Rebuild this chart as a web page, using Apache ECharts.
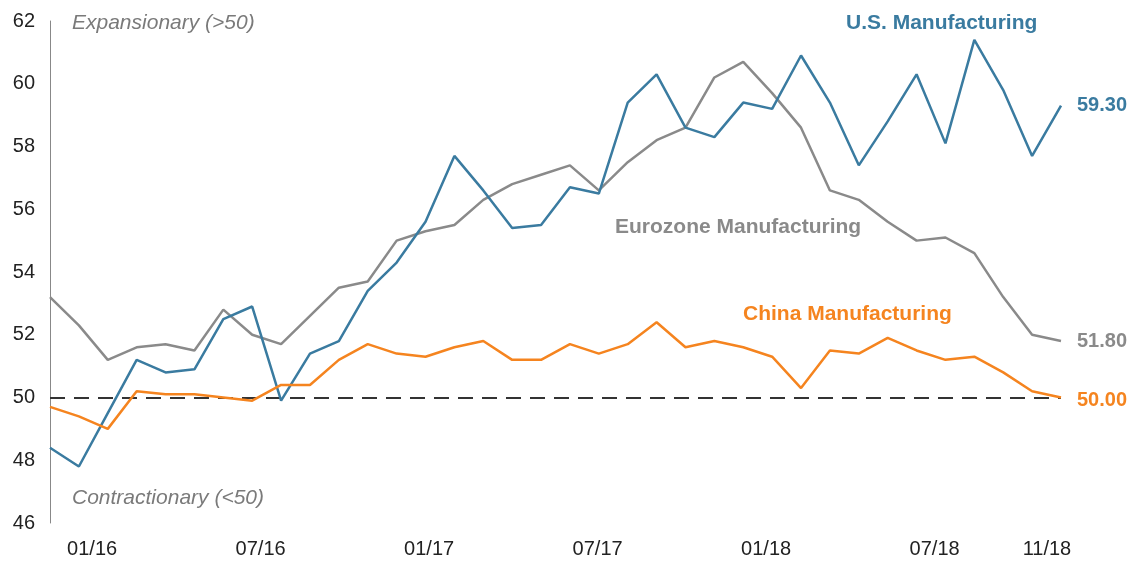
<!DOCTYPE html>
<html>
<head>
<meta charset="utf-8">
<script src="https://cdn.jsdelivr.net/npm/echarts@6/dist/echarts.min.js"></script>
<style>html,body{margin:0;padding:0;background:#fff;}#c{width:1131px;height:566px;}</style>
</head>
<body>
<div id="c"></div>
<script>
const categories = ["12/15","01/16","02/16","03/16","04/16","05/16","06/16","07/16","08/16","09/16","10/16","11/16",
  "12/16","01/17","02/17","03/17","04/17","05/17","06/17","07/17","08/17","09/17","10/17","11/17",
  "12/17","01/18","02/18","03/18","04/18","05/18","06/18","07/18","08/18","09/18","10/18","11/18"];
const shownLabels = ["01/16","07/16","01/17","07/17","01/18","07/18","11/18"];
const usManufacturing = [48.4, 47.8, 49.5, 51.2, 50.8, 50.9, 52.5, 52.9, 49.9, 51.4, 51.8, 53.4,
  54.3, 55.6, 57.7, 56.6, 55.4, 55.5, 56.7, 56.5, 59.4, 60.3, 58.6, 58.3,
  59.4, 59.2, 60.9, 59.4, 57.4, 58.8, 60.3, 58.1, 61.4, 59.8, 57.7, 59.3];
const eurozoneManufacturing = [53.2, 52.3, 51.2, 51.6, 51.7, 51.5, 52.8, 52.0, 51.7, 52.6, 53.5, 53.7,
  55.0, 55.3, 55.5, 56.3, 56.8, 57.1, 57.4, 56.6, 57.5, 58.2, 58.6, 60.2,
  60.7, 59.7, 58.6, 56.6, 56.3, 55.6, 55.0, 55.1, 54.6, 53.2, 52.0, 51.8];
const chinaManufacturing = [49.7, 49.4, 49.0, 50.2, 50.1, 50.1, 50.0, 49.9, 50.4, 50.4, 51.2, 51.7,
  51.4, 51.3, 51.6, 51.8, 51.2, 51.2, 51.7, 51.4, 51.7, 52.4, 51.6, 51.8,
  51.6, 51.3, 50.3, 51.5, 51.4, 51.9, 51.5, 51.2, 51.3, 50.8, 50.2, 50.0];
const yTicks = {min: 46, max: 62, interval: 2};
const threshold = 50;

const FONT = '"Liberation Sans", Arial, sans-serif';
const BLUE = '#3a7ba0', GRAY = '#8a8a8a', ORANGE = '#f5841f';

const chart = echarts.init(document.getElementById('c'), null, {renderer: 'canvas'});
function lineSeries(name, data, color, labelOffset) {
  return {
    name, type: 'line', data, xAxisIndex: 0, yAxisIndex: 0,
    symbol: 'none', smooth: false,
    lineStyle: {color, width: 2.5},
    itemStyle: {color},
    endLabel: {
      show: true, distance: 16, offset: labelOffset || [0, 0],
      formatter: p => Number(p.value).toFixed(2),
      color, fontWeight: 'bold', fontSize: 20, fontFamily: FONT
    },
    animation: false
  };
}
const seriesEu = lineSeries('Eurozone Manufacturing', eurozoneManufacturing, GRAY);
const seriesUs = lineSeries('U.S. Manufacturing', usManufacturing, BLUE);
const seriesCn = lineSeries('China Manufacturing', chinaManufacturing, ORANGE, [0, 3]);
seriesCn.markLine = {
  silent: true, symbol: 'none', label: {show: false},
  lineStyle: {color: '#333', width: 2, type: [15, 9]},
  data: [{yAxis: threshold}], z: 1
};

chart.setOption({
  animation: false,
  backgroundColor: '#fff',
  grid: {left: 50, right: 70, top: 21, bottom: 43},
  xAxis: [
    {type: 'category', data: categories, boundaryGap: false, show: false},
    {type: 'category', data: categories, boundaryGap: true, position: 'bottom',
      axisLine: {show: false}, axisTick: {show: false}, splitLine: {show: false},
      axisLabel: {
        interval: (i, v) => shownLabels.indexOf(v) >= 0,
        color: '#222', fontSize: 20, fontFamily: FONT, margin: 16
      }}
  ],
  yAxis: {
    type: 'value', min: yTicks.min, max: yTicks.max, interval: yTicks.interval,
    axisLine: {show: true, lineStyle: {color: '#888', width: 1}},
    axisTick: {show: false}, splitLine: {show: false},
    axisLabel: {color: '#222', fontSize: 20, fontFamily: FONT, margin: 15}
  },
  series: [seriesEu, seriesUs, seriesCn],
  graphic: [
    {type: 'text', x: 72, y: 23, style: {text: 'Expansionary (>50)', fill: '#7a7a7a', font: 'italic 21px ' + FONT, verticalAlign: 'middle'}},
    {type: 'text', x: 72, y: 498, style: {text: 'Contractionary (<50)', fill: '#7a7a7a', font: 'italic 21px ' + FONT, verticalAlign: 'middle'}},
    {type: 'text', x: 846, y: 23, style: {text: 'U.S. Manufacturing', fill: BLUE, font: 'bold 21px ' + FONT, verticalAlign: 'middle'}},
    {type: 'text', x: 615, y: 227, style: {text: 'Eurozone Manufacturing', fill: GRAY, font: 'bold 21px ' + FONT, verticalAlign: 'middle'}},
    {type: 'text', x: 743, y: 314, style: {text: 'China Manufacturing', fill: ORANGE, font: 'bold 21px ' + FONT, verticalAlign: 'middle'}}
  ]
});
</script>
</body>
</html>
